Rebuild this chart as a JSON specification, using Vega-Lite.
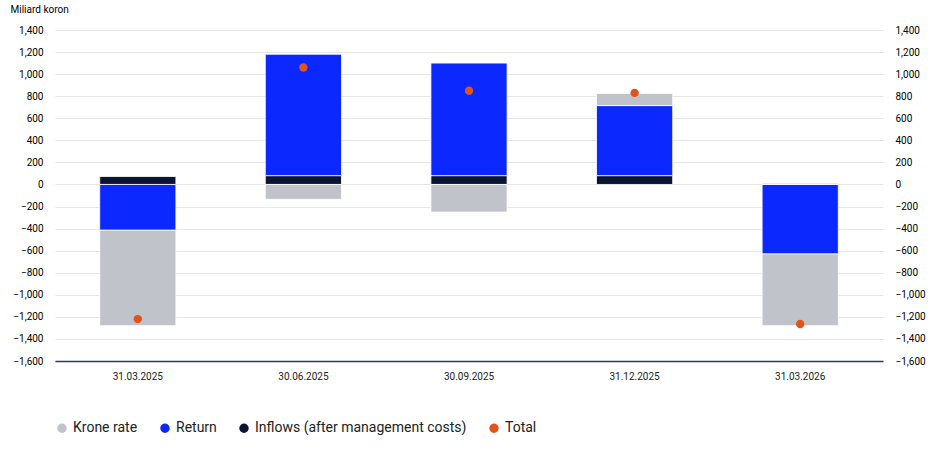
{
  "$schema": "https://vega.github.io/schema/vega-lite/v6.json",
  "width": 828,
  "height": 331,
  "background": "white",
  "padding": {"left": 10, "top": 4, "right": 10, "bottom": 5},
  "data": {
    "values": [
      {"date": "31.03.2025", "series": "Inflows (after management costs)", "order": 1, "value": 72},
      {"date": "31.03.2025", "series": "Return", "order": 2, "value": -415},
      {"date": "31.03.2025", "series": "Krone rate", "order": 3, "value": -865},
      {"date": "30.06.2025", "series": "Inflows (after management costs)", "order": 1, "value": 80},
      {"date": "30.06.2025", "series": "Return", "order": 2, "value": 1100},
      {"date": "30.06.2025", "series": "Krone rate", "order": 3, "value": -135},
      {"date": "30.09.2025", "series": "Inflows (after management costs)", "order": 1, "value": 80},
      {"date": "30.09.2025", "series": "Return", "order": 2, "value": 1020},
      {"date": "30.09.2025", "series": "Krone rate", "order": 3, "value": -250},
      {"date": "31.12.2025", "series": "Inflows (after management costs)", "order": 1, "value": 80},
      {"date": "31.12.2025", "series": "Return", "order": 2, "value": 635},
      {"date": "31.12.2025", "series": "Krone rate", "order": 3, "value": 110},
      {"date": "31.03.2026", "series": "Inflows (after management costs)", "order": 1, "value": 0},
      {"date": "31.03.2026", "series": "Return", "order": 2, "value": -630},
      {"date": "31.03.2026", "series": "Krone rate", "order": 3, "value": -650},
      {"date": "31.03.2026", "series": "Krone rate", "order": 4, "value": 12}
    ]
  },
  "datasets": {
    "totals": [
      {"date": "31.03.2025", "series": "Total", "value": -1220},
      {"date": "30.06.2025", "series": "Total", "value": 1060},
      {"date": "30.09.2025", "series": "Total", "value": 850},
      {"date": "31.12.2025", "series": "Total", "value": 830},
      {"date": "31.03.2026", "series": "Total", "value": -1265}
    ]
  },
  "encoding": {
    "x": {
      "field": "date", "type": "nominal", "sort": null, "title": null,
      "scale": {"paddingInner": 0.54, "paddingOuter": 0.27},
      "axis": {"labelAngle": 0, "domainColor": "#2b3a6b", "domainWidth": 1.5, "ticks": false, "labelPadding": 10, "labelFontSize": 10, "labelColor": "#222"}
    }
  },
  "layer": [
    {
      "mark": {"type": "bar", "stroke": "white", "strokeWidth": 0.8},
      "encoding": {
        "y": {
          "field": "value", "type": "quantitative", "stack": "zero",
          "scale": {"domain": [-1600, 1400], "nice": false},
          "axis": {"title": "Miliard koron", "titleAngle": 0, "titleAnchor": "end", "titleAlign": "left", "titleX": -45, "titleY": -16, "titleFontWeight": "normal", "titleFontSize": 10, "values": [-1600,-1400,-1200,-1000,-800,-600,-400,-200,0,200,400,600,800,1000,1200,1400], "labelOverlap": false, "format": ",d", "domain": false, "ticks": false, "labelFontSize": 10, "labelPadding": 12, "gridColor": "#e6e6e6"}
        },
        "color": {
          "field": "series", "type": "nominal",
          "scale": {"domain": ["Krone rate", "Return", "Inflows (after management costs)", "Total"], "range": ["#c1c3ca", "#0a28ff", "#0b1533", "#e0541c"]},
          "legend": {"title": null, "orient": "bottom", "direction": "horizontal", "symbolType": "circle", "symbolSize": 120, "symbolOpacity": 1, "labelFontSize": 14, "labelLimit": 0, "labelColor": "#222", "offset": 40, "columnPadding": 18}
        },
        "order": {"field": "order"}
      }
    },
    {
      "data": {"name": "totals"},
      "mark": {"type": "circle", "size": 70, "opacity": 1},
      "encoding": {
        "y": {"field": "value", "type": "quantitative", "axis": null},
        "color": {"field": "series", "type": "nominal"}
      }
    },
    {
      "data": {"name": "totals"},
      "mark": {"type": "point", "opacity": 0},
      "encoding": {
        "y": {
          "field": "value", "type": "quantitative",
          "axis": {"orient": "right", "title": null, "values": [-1600,-1400,-1200,-1000,-800,-600,-400,-200,0,200,400,600,800,1000,1200,1400], "labelOverlap": false, "format": ",d", "domain": false, "ticks": false, "grid": false, "labelFontSize": 10, "labelPadding": 12}
        }
      }
    }
  ],
  "resolve": {"axis": {"y": "independent"}},
  "config": {"view": {"stroke": null}, "font": "Roboto"}
}
